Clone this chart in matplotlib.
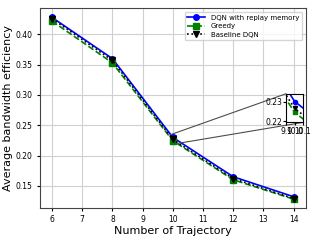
import matplotlib
matplotlib.use("Agg")
import matplotlib.pyplot as plt
from mpl_toolkits.axes_grid1.inset_locator import mark_inset

# Datos
trayectorias = [6, 8, 10, 12, 14]
dqn_replay = [0.428, 0.360, 0.230, 0.165, 0.132]
greedy = [0.422, 0.353, 0.2245, 0.160, 0.128]
baseline_dqn = [0.426, 0.357, 0.2265, 0.162, 0.129]

fig, ax = plt.subplots(figsize=(3.2, 2.4), dpi=100)
fig.subplots_adjust(left=0.125, right=0.955, top=0.965, bottom=0.135)

def dibujar(a, ms=4):
    a.plot(trayectorias, dqn_replay, 'b-o', lw=1.2, ms=ms, label='DQN with replay memory')
    a.plot(trayectorias, greedy, 'g--s', lw=1.2, ms=ms, label='Greedy')
    a.plot(trayectorias, baseline_dqn, 'k:v', lw=1.2, ms=ms, label='Baseline DQN')

dibujar(ax)
ax.set_xlim(5.6, 14.4)
ax.set_ylim(0.114, 0.443)
ax.set_xticks(range(6, 15))
ax.set_yticks([0.15, 0.20, 0.25, 0.30, 0.35, 0.40])
ax.tick_params(labelsize=5.5, length=2)
ax.grid(True, color='#d0d0d0', lw=0.8)
ax.set_xlabel('Number of Trajectory', fontsize=8, labelpad=1)
ax.set_ylabel('Average bandwidth efficiency', fontsize=8, labelpad=2)
ax.legend(loc='upper right', fontsize=5, handlelength=2.6, borderpad=0.4, labelspacing=0.35)
for s in ax.spines.values():
    s.set_color('#444444')

# Ventana de acercamiento
axins = fig.add_axes([0.895, 0.49, 0.052, 0.12])
dibujar(axins, ms=3)
axins.set_xlim(9.9, 10.1)
axins.set_ylim(0.2195, 0.234)
axins.set_xticks([9.9, 10.0, 10.1])
axins.set_yticks([0.22, 0.23])
axins.tick_params(labelsize=5.5, length=2, pad=1)
mark_inset(ax, axins, loc1=2, loc2=4, fc='none', ec='0.3', lw=0.8)

fig.savefig('out.png')
